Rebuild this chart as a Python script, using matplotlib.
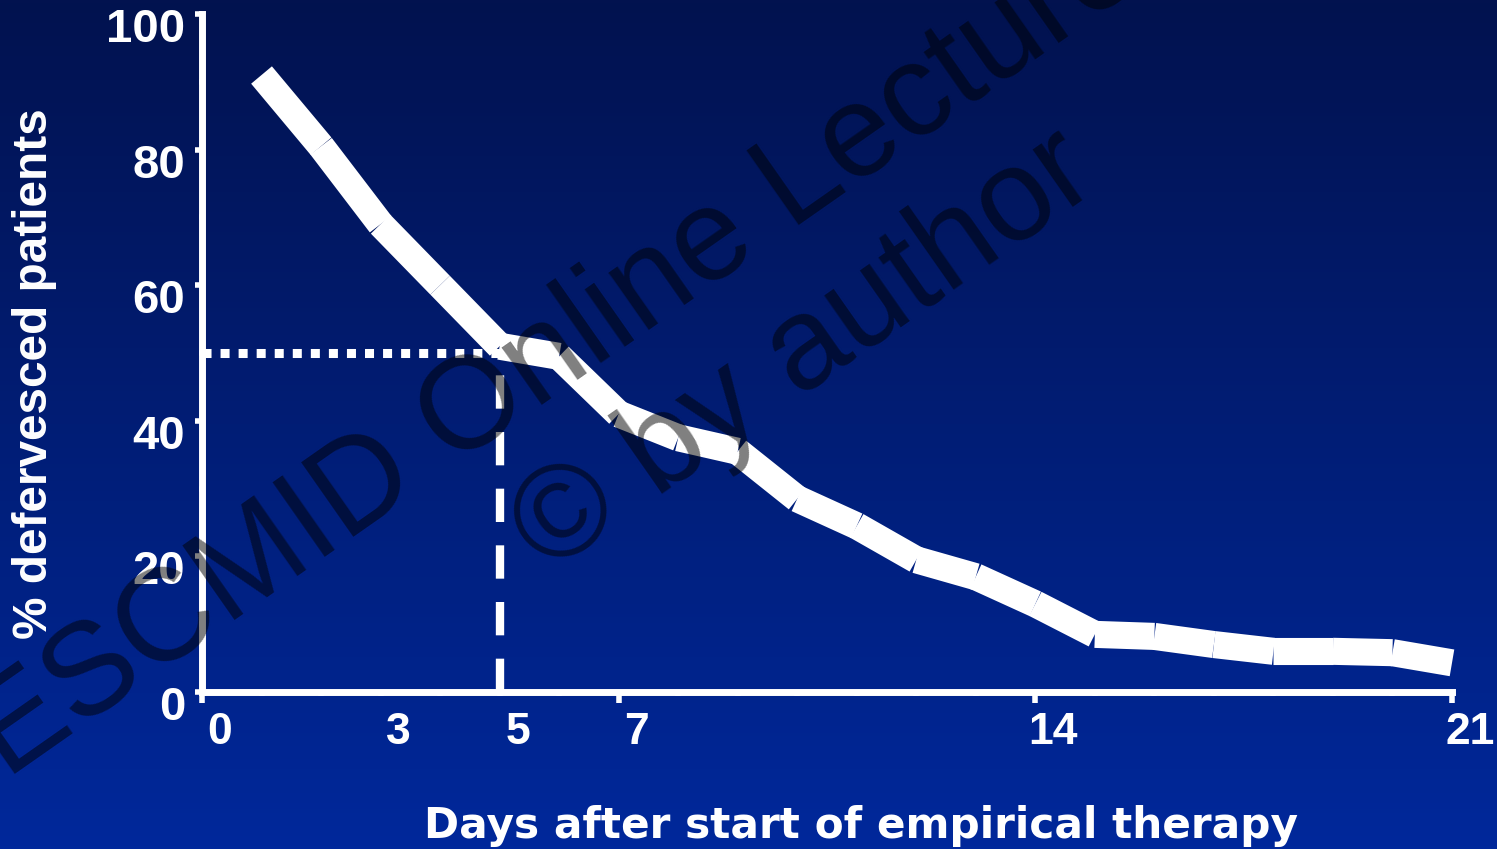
import numpy as np
import matplotlib
matplotlib.use("Agg")
import matplotlib.pyplot as plt
from matplotlib.colors import LinearSegmentedColormap
from matplotlib.transforms import ScaledTranslation, blended_transform_factory

# ---------------- data ----------------
days = [1, 2, 3, 4, 5, 6, 7, 8, 9, 10, 11, 12, 13, 14, 15, 16, 17, 18, 19, 20, 21]
pct_defervesced = [91, 80.5, 69, 60, 51, 49.5, 41, 37.5, 35.5, 28.5, 24.5,
                   19.5, 17, 13, 8.5, 8.2, 7, 6, 6, 5.8, 4.3]
median_day = 5
median_pct = 50
x_tick_labels = [0, 3, 5, 7, 14, 21]
x_major_ticks = [0, 7, 14, 21]
y_ticks = [0, 20, 40, 60, 80, 100]
x_title = "Days after start of empirical therapy"
y_title = "% defervesced patients"
watermark_1 = "ESCMID Online Lecture Library"
watermark_2 = "\u00a9 by author"

W, H = 1497, 849
fig = plt.figure(figsize=(W / 100, H / 100), dpi=100)

# ---------------- background gradient ----------------
bg = fig.add_axes([0, 0, 1, 1], zorder=-10)
cmap = LinearSegmentedColormap.from_list("bg", ["#02124f", "#00289b"])
grad = np.linspace(0, 1, 256).reshape(-1, 1)
bg.imshow(grad, aspect="auto", cmap=cmap, extent=[0, 1, 0, 1], origin="upper")
bg.set_axis_off()

# ---------------- main axes ----------------
x0, x1 = 202, 1452
y0, y1 = 692, 14
ax = fig.add_axes([x0 / W, 1 - y0 / H, (x1 - x0) / W, (y0 - y1) / H], zorder=1)
ax.set_facecolor("none")
ax.set_xlim(0, 21)
ax.set_ylim(0, 100)
for s in ["top", "right"]:
    ax.spines[s].set_visible(False)
for s in ["left", "bottom"]:
    ax.spines[s].set_color("white")
    ax.spines[s].set_linewidth(5)
    ax.spines[s].set_capstyle("projecting")

ax.set_xticks(x_major_ticks)
ax.set_xticks(np.arange(0, 22, 1), minor=True)
ax.set_xticklabels([])
ax.tick_params(axis="x", which="major", direction="out", length=8, width=4, color="white")
ax.tick_params(axis="x", which="minor", direction="out", length=3, width=4, color="white")

ax.set_yticks(y_ticks)
ax.set_yticks(np.arange(10, 100, 20), minor=True)
ax.tick_params(axis="y", which="major", direction="out", length=5, width=4, color="white",
               pad=7, labelsize=34, labelcolor="white")
ax.tick_params(axis="y", which="minor", direction="out", length=2, width=4, color="white")
for lab in ax.get_yticklabels():
    lab.set_fontfamily("Liberation Sans")
    lab.set_fontweight("bold")
    lab.set_transform(lab.get_transform() + ScaledTranslation(0, -11 / 100, fig.dpi_scale_trans))

# x tick labels (shifted right of ticks as in the slide)
tr = blended_transform_factory(ax.transData, ax.transAxes) + ScaledTranslation(18 / 100, -40 / 100, fig.dpi_scale_trans)
for d in x_tick_labels:
    ax.text(d, 0, str(d), transform=tr, ha="center", va="center", color="white",
            fontsize=32, fontweight="bold", family="Liberation Sans")

# ---------------- reference lines ----------------
ax.plot([0, median_day], [median_pct, median_pct], color="white", lw=6.5,
        linestyle=(0, (1, 1)), dash_capstyle="butt", clip_on=False, zorder=3)
ax.plot([median_day, median_day], [0, median_pct - 2], color="white", lw=6,
        linestyle=(0, (4, 2.8)), dash_capstyle="butt", clip_on=False, zorder=3)

# ---------------- curve ----------------
for i in range(len(days) - 1):
    ax.plot(days[i:i + 2], pct_defervesced[i:i + 2], color="white", lw=19.5,
            solid_capstyle="butt", clip_on=False, zorder=4)

# ---------------- axis titles ----------------
fig.canvas.draw()
renderer = fig.canvas.get_renderer()


def fit_text(t, target_px, horizontal=True):
    bb = t.get_window_extent(renderer)
    cur = bb.width if horizontal else bb.height
    t.set_fontsize(t.get_fontsize() * target_px / cur)


xt = fig.text(861 / W, 1 - 838 / H, x_title, ha="center", va="baseline", color="white",
              fontsize=30, fontweight="bold", family="DejaVu Sans")
fit_text(xt, 872)
yt = fig.text(35 / W, 1 - 374 / H, y_title, ha="center", va="center", rotation=90,
              color="white", fontsize=34, fontweight="bold", family="Liberation Sans")
fit_text(yt, 532, horizontal=False)

# ---------------- watermark ----------------
wm_kw = dict(ha="center", va="center", rotation=35, rotation_mode="anchor",
             color=(0, 0, 0, 0.5), fontsize=94, family="Liberation Sans", zorder=100)
fig.text(735 / W, 1 - 228 / H, watermark_1, **wm_kw)
fig.text(805 / W, 1 - 353 / H, watermark_2, **wm_kw)

fig.savefig("out.png", dpi=100)
